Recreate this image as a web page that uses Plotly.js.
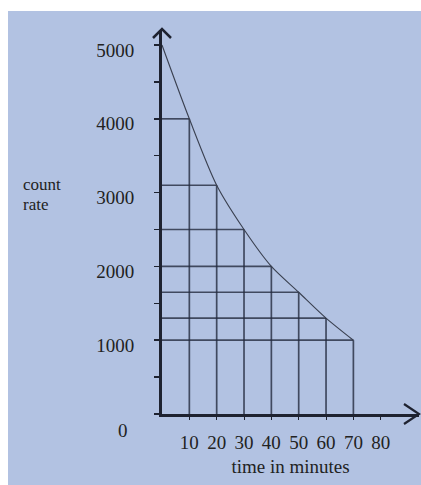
<!DOCTYPE html>
<html>
<head>
<meta charset="utf-8">
<script src="https://cdn.plot.ly/plotly-3.0.1.min.js"></script>
<style>
html,body{margin:0;padding:0;background:#ffffff;}
#chart{position:absolute;left:8px;top:11px;width:413px;height:474px;}
</style>
</head>
<body>
<div id="chart"></div>
<script>
// data
const timeMinutes = [0, 10, 20, 30, 40, 50, 60, 70];
const countRate = [5000, 4000, 3100, 2500, 2000, 1650, 1300, 1000];
const xTickVals = [10, 20, 30, 40, 50, 60, 70, 80];
const xTickLabels = ['10', '20', '30', '40', '50', '60', '70', '80'];
const yTickVals = [1000, 2000, 3000, 4000, 5000];
const yTickLabels = ['1000', '2000', '3000', '4000', '5000'];
const originLabel = '0';
const yTitleLines = ['count', 'rate'];

const ink = '#1e2230';
const gridInk = 'rgba(35,42,62,0.8)';
const txt = '#222222';
const font = '"Liberation Serif", "Times New Roman", serif';

// construction lines from each reading to both axes
const gx = [], gy = [];
for (let i = 1; i < timeMinutes.length; i++) {
  gx.push(0, timeMinutes[i], null);
  gy.push(countRate[i], countRate[i], null);
  gx.push(timeMinutes[i], timeMinutes[i], null);
  gy.push(0, countRate[i], null);
}

const traces = [
  {x: gx, y: gy, mode: 'lines', line: {color: gridInk, width: 1.7}, hoverinfo: 'skip', showlegend: false},
  {x: timeMinutes, y: countRate, mode: 'lines', line: {color: '#3a4050', width: 1.1, shape: 'spline', smoothing: 0.8}, showlegend: false}
];

const layout = {
  width: 413, height: 474,
  paper_bgcolor: '#b2c2e2', plot_bgcolor: 'rgba(0,0,0,0)',
  margin: {l: 154, r: 2, t: 20, b: 71},
  showlegend: false,
  font: {family: font, size: 19, color: txt},
  xaxis: {
    range: [0, 94], showgrid: false, zeroline: false,
    showline: true, linecolor: ink, linewidth: 3,
    tickmode: 'array', tickvals: xTickVals, ticktext: xTickLabels,
    ticks: 'outside', ticklen: 3, tickwidth: 1, tickcolor: ink,
    ticklabelstandoff: 6,
    tickfont: {family: font, size: 19, color: txt},
    title: {text: 'time in minutes', font: {family: font, size: 19, color: txt}, standoff: 8}
  },
  yaxis: {
    range: [0, 5190], showgrid: false, zeroline: false,
    showline: true, linecolor: ink, linewidth: 3,
    tickmode: 'array', tickvals: yTickVals, ticktext: yTickLabels,
    ticks: 'outside', ticklen: 5, tickwidth: 1.5, tickcolor: ink,
    minor: {tick0: 0, dtick: 500, ticks: 'outside', ticklen: 5, tickwidth: 1.5, tickcolor: ink, showgrid: false},
    ticklabelstandoff: 16, ticklabelshift: 5,
    tickfont: {family: font, size: 19, color: txt}
  },
  annotations: [
    {text: originLabel, xref: 'x', yref: 'y', x: 0, y: 0, xanchor: 'center', yanchor: 'middle',
     xshift: -39, yshift: -16, showarrow: false, font: {family: font, size: 19, color: txt}},
    {text: yTitleLines[0], xref: 'paper', yref: 'paper', x: -0.55, y: 0.600, xanchor: 'left', yanchor: 'middle',
     showarrow: false, font: {family: font, size: 17, color: txt}},
    {text: yTitleLines[1], xref: 'paper', yref: 'paper', x: -0.55, y: 0.546, xanchor: 'left', yanchor: 'middle',
     showarrow: false, font: {family: font, size: 17, color: txt}}
  ],
  shapes: [
    {type: 'path', xref: 'paper', yref: 'paper', xsizemode: 'pixel', ysizemode: 'pixel',
     xanchor: 0, yanchor: 1, path: 'M-9,-7 L0,2 L9,-7', line: {color: ink, width: 2.5}},
    {type: 'path', xref: 'paper', yref: 'paper', xsizemode: 'pixel', ysizemode: 'pixel',
     xanchor: 1, yanchor: 0, path: 'M-15,10 L0,0 L-15,-10', line: {color: ink, width: 2.2}}
  ]
};

Plotly.newPlot('chart', traces, layout, {displayModeBar: false, staticPlot: true});
</script>
</body>
</html>
